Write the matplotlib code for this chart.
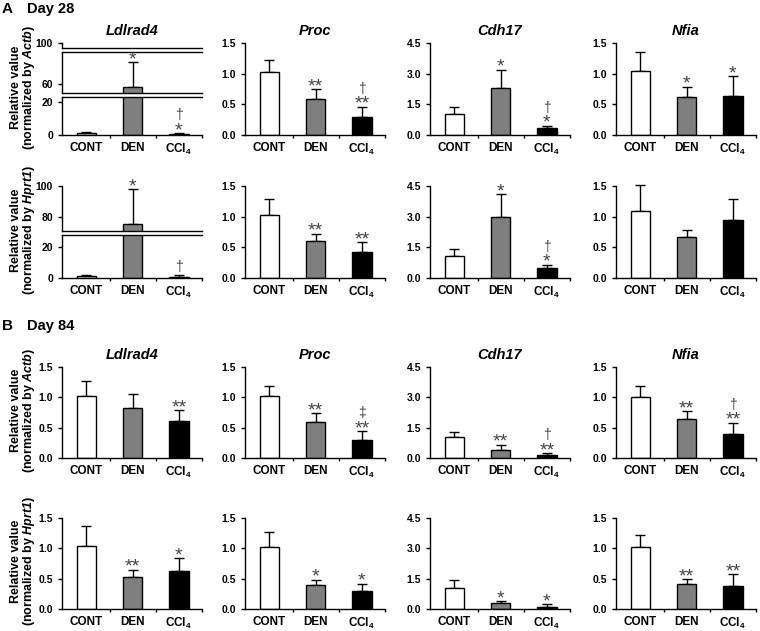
import numpy as np
import matplotlib.pyplot as plt

plt.rcParams['font.family'] = ['Liberation Sans', 'DejaVu Sans']
plt.rcParams['font.weight'] = 'bold'
plt.rcParams['mathtext.fontset'] = 'custom'
plt.rcParams['mathtext.rm'] = 'Liberation Sans'
plt.rcParams['mathtext.bf'] = 'Liberation Sans:bold'
plt.rcParams['mathtext.it'] = 'Liberation Sans:italic'
plt.rcParams['mathtext.bfit'] = 'Liberation Sans:italic:bold'

groups = ['CONT', 'DEN', r'CCl$_\mathbf{4}$']
genes = ['Ldlrad4', 'Proc', 'Cdh17', 'Nfia']
bar_colors = ['white', '#7f7f7f', 'black']

# Day 28, normalized by Actb
d28_actb_mean = [[1.1, 57.8, 0.5], [1.02, 0.58, 0.30], [1.05, 2.30, 0.33], [1.05, 0.625, 0.636]]
d28_actb_err = [[1.0, 15.7, 0.7], [0.20, 0.17, 0.16], [0.33, 0.90, 0.12], [0.30, 0.165, 0.32]]
d28_actb_star = [['', '*', '*'], ['', '**', '**'], ['', '*', '*'], ['', '*', '*']]
d28_actb_dag = [['', '', '†'], ['', '', '†'], ['', '', '†'], ['', '', '']]

# Day 28, normalized by Hprt1
d28_hprt_mean = [[1.2, 75.5, 0.6], [1.03, 0.60, 0.42], [1.06, 2.98, 0.49], [1.10, 0.668, 0.94]]
d28_hprt_err = [[0.8, 22.5, 1.4], [0.25, 0.12, 0.16], [0.36, 1.12, 0.16], [0.42, 0.11, 0.34]]
d28_hprt_star = [['', '*', ''], ['', '**', '**'], ['', '*', '*'], ['', '', '']]
d28_hprt_dag = [['', '', '†'], ['', '', ''], ['', '', '†'], ['', '', '']]

# Day 84, normalized by Actb
d84_actb_mean = [[1.03, 0.83, 0.61], [1.02, 0.60, 0.29], [1.02, 0.41, 0.13], [1.00, 0.635, 0.39]]
d84_actb_err = [[0.24, 0.22, 0.18], [0.16, 0.14, 0.15], [0.25, 0.25, 0.12], [0.19, 0.135, 0.19]]
d84_actb_star = [['', '', '**'], ['', '**', '**'], ['', '**', '**'], ['', '**', '**']]
d84_actb_dag = [['', '', ''], ['', '', '‡'], ['', '', '†'], ['', '', '†']]

# Day 84, normalized by Hprt1
d84_hprt_mean = [[1.04, 0.53, 0.625], [1.02, 0.39, 0.30], [1.04, 0.28, 0.12], [1.02, 0.41, 0.38]]
d84_hprt_err = [[0.335, 0.12, 0.215], [0.25, 0.095, 0.12], [0.39, 0.10, 0.13], [0.20, 0.08, 0.19]]
d84_hprt_star = [['', '**', '*'], ['', '*', '*'], ['', '*', '*'], ['', '**', '**']]
d84_hprt_dag = [['', '', ''], ['', '', ''], ['', '', ''], ['', '', '']]

rows = [
    (d28_actb_mean, d28_actb_err, d28_actb_star, d28_actb_dag, 'Actb'),
    (d28_hprt_mean, d28_hprt_err, d28_hprt_star, d28_hprt_dag, 'Hprt1'),
    (d84_actb_mean, d84_actb_err, d84_actb_star, d84_actb_dag, 'Actb'),
    (d84_hprt_mean, d84_hprt_err, d84_hprt_star, d84_hprt_dag, 'Hprt1'),
]

# layout in pixels
W, H = 760, 631
col_left = [62, 245, 430, 616]
panel_w = 140
row_top = [43, 186, 367, 518]
row_bot = [135, 278, 458, 609]
# broken y axes for Ldlrad4 at day 28: (ymin, ymax, top px, bottom px, ticks), bottom segment first
breaks = {
    0: [(0, 23, 97, 135, [0, 20]), (54, 80, 52, 93, [60]), (97, 100, 43, 48, [100])],
    1: [(0, 27.7, 235, 278, [0, 20]), (71, 100, 186, 231, [80, 100])],
}
sym_color = '#444444'

fig = plt.figure(figsize=(7.6, 6.31), dpi=100)


def px_axes(left, top, width, height):
    return fig.add_axes([left / W, 1 - (top + height) / H, width / W, height / H])


def draw_bars(ax, means, errs, clip=True):
    x = np.arange(3)
    ax.bar(x, means, width=0.42, color=bar_colors, edgecolor='black', linewidth=1.0, zorder=2)
    eb = ax.errorbar(x, means, yerr=[np.zeros(3), errs], fmt='none', ecolor='black',
                     elinewidth=1.0, capsize=3.5, capthick=1.0, zorder=1)
    if not clip:
        for art in eb.lines[1] + eb.lines[2]:
            art.set_clip_on(False)
    ax.set_xlim(-0.53, 2.5)


def style_x(ax):
    ax.set_xticks(range(3))
    ax.set_xticklabels(groups, fontsize=8.5, fontweight='bold')
    ax.set_xticks([0.5, 1.5, 2.5], minor=True)
    ax.tick_params(axis='x', which='major', length=0, pad=5)
    ax.tick_params(axis='x', which='minor', length=2, width=1, direction='out')


def mark(ax, x, y, star, dag):
    if star:
        ax.annotate(star, (x, y), xytext=(0, -1.5), textcoords='offset points', ha='center',
                    va='baseline', fontsize=14, fontweight='normal', color=sym_color)
    if dag:
        off = 10.0 if star else 2.5
        ax.annotate(dag, (x, y), xytext=(0, off), textcoords='offset points', ha='center',
                    va='baseline', fontsize=10, fontweight='normal', color=sym_color)


for r, (means, errs, stars, dags, ref) in enumerate(rows):
    for c, gene in enumerate(genes):
        m = np.array(means[c])
        e = np.array(errs[c])
        tops = m + e
        if c == 0 and r in breaks:
            segs = breaks[r]
            axes = []
            for i, (lo, hi, tpx, bpx, ticks) in enumerate(segs):
                ax = px_axes(col_left[c], tpx, panel_w, bpx - tpx)
                draw_bars(ax, m, e)
                ax.set_ylim(lo, hi)
                ax.set_yticks(ticks)
                ax.set_yticklabels([str(t) for t in ticks], fontsize=7.5, fontweight='bold')
                ax.tick_params(axis='y', length=3, width=1)
                ax.spines['right'].set_visible(False)
                ax.spines['top'].set_visible(i < len(segs) - 1)
                for s in ax.spines.values():
                    s.set_linewidth(1.0)
                if i == 0:
                    style_x(ax)
                else:
                    ax.set_xticks([])
                for k in range(3):
                    if lo <= tops[k] <= hi:
                        mark(ax, k, tops[k], stars[c][k], dags[c][k])
                axes.append(ax)
            top_ax = axes[-1]
        else:
            ax = px_axes(col_left[c], row_top[r], panel_w, row_bot[r] - row_top[r])
            draw_bars(ax, m, e, clip=False)
            ymax = 4.5 if gene == 'Cdh17' else 1.5
            ticks = np.linspace(0, ymax, 4)
            ax.set_ylim(0, ymax)
            ax.set_yticks(ticks)
            ax.set_yticklabels([f'{t:.1f}' for t in ticks], fontsize=7.5, fontweight='bold')
            ax.tick_params(axis='y', length=3, width=1)
            ax.spines['right'].set_visible(False)
            ax.spines['top'].set_visible(False)
            for s in ax.spines.values():
                s.set_linewidth(1.0)
            style_x(ax)
            for k in range(3):
                mark(ax, k, tops[k], stars[c][k], dags[c][k])
            top_ax = ax
        if r in (0, 2):
            top_ax.set_title(gene, fontsize=10.5, fontstyle='italic', fontweight='bold', pad=6)

    yc = 1 - (row_top[r] + row_bot[r]) / 2 / H + 2 / H
    fig.text(16 / W, yc, 'Relative value', rotation=90, ha='center', va='center',
             fontsize=9, fontweight='bold')
    fig.text(29 / W, yc, r'(normalized by $\mathbfit{' + ref + '}$)', rotation=90,
             ha='center', va='center', fontsize=9, fontweight='bold')

fig.text(2 / W, 1 - 9 / H, 'A', ha='left', va='center', fontsize=11, fontweight='bold')
fig.text(27 / W, 1 - 9 / H, 'Day 28', ha='left', va='center', fontsize=10.5, fontweight='bold')
fig.text(2 / W, 1 - 326 / H, 'B', ha='left', va='center', fontsize=11, fontweight='bold')
fig.text(27 / W, 1 - 326 / H, 'Day 84', ha='left', va='center', fontsize=10.5, fontweight='bold')

fig.savefig('out.png', dpi=100)
